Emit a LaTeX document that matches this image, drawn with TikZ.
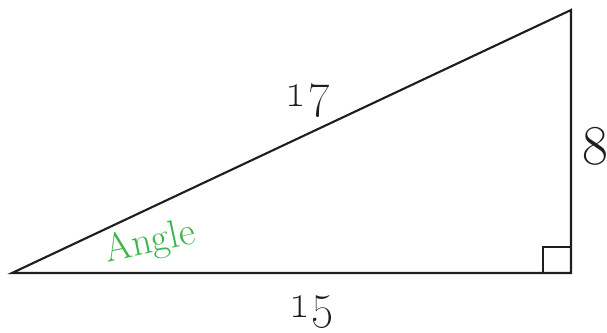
\documentclass[tikz,border=0pt]{standalone}
\usepackage{xcolor}
\usetikzlibrary{positioning}
\definecolor{triLine}{HTML}{1E1E1E}
\definecolor{triGreen}{HTML}{3BB54A}
\tikzset{
  triSide/.style={
    draw=triLine,
    line width=1.5pt,
    line join=miter
  },
  triMark/.style={
    draw=triLine,
    line width=1.3pt
  },
  triLength/.style={
    font=\fontsize{40}{40}\selectfont,
    text=triLine,
    inner sep=0pt
  },
  triAngle/.style={
    font=\fontsize{28}{28}\selectfont,
    text=triGreen,
    inner sep=0pt,
    rotate=12
  }
}
\begin{document}
\begin{tikzpicture}[x=0.025cm, y=-0.025cm]
\useasboundingbox (0,0) rectangle (607,332);
\coordinate (left) at (12,273);
\coordinate (corner) at (571,273);
\coordinate (top) at (571,10);

\draw[triSide] (left) -- (corner) -- (top) -- cycle;
\draw[triMark] ([xshift=-0.7cm]corner) |- ([yshift=0.65cm]corner);

\node[triLength] (hyp) at (307,101) {\oldstylenums{17}};
\node[triLength] (leg) at (595,146) {8};
\node[triLength] (base) at (311,312) {\oldstylenums{15}};
\node[triAngle] (angle) at (150,243) {Angle};
\end{tikzpicture}
\end{document}
